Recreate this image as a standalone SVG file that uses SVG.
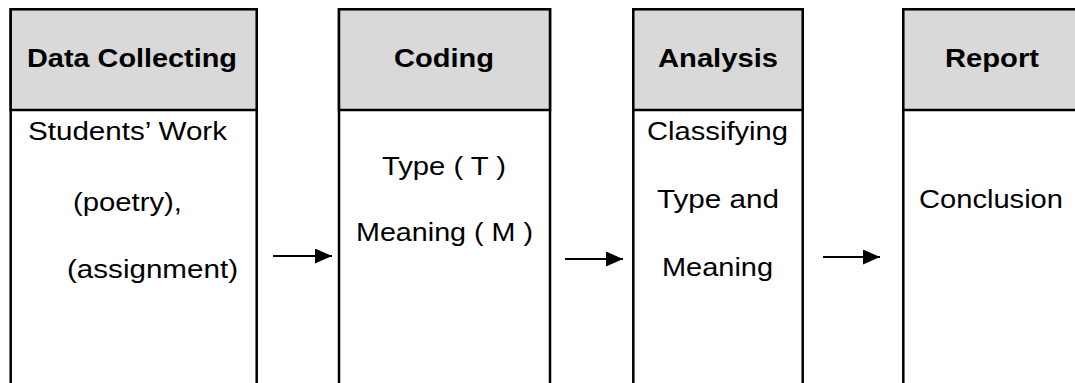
<svg xmlns="http://www.w3.org/2000/svg" width="1075" height="383" viewBox="0 0 1075 383">
<style>
.body{fill:#ffffff;stroke:#000000;stroke-width:2.5}
.head{fill:#d9d9d9;stroke:#000000;stroke-width:2.5}
.ht{font-family:"Liberation Sans",Arial,sans-serif;font-size:25px;font-weight:bold;fill:#000000}
.bt{font-family:"Liberation Sans",Arial,sans-serif;font-size:25px;fill:#000000}
.conn{stroke:#000000;stroke-width:2.2;fill:none}
</style>
<defs>
<marker id="ah" markerUnits="userSpaceOnUse" markerWidth="17" markerHeight="15" refX="17" refY="7.5" orient="auto">
<path d="M0,0 L17,7.5 L0,15 Z" fill="#000000"/>
</marker>
</defs>
<rect x="0" y="0" width="1075" height="383" fill="#ffffff"/>
<g id="node-data-collecting">
<rect class="body" x="10.7" y="9.3" width="246" height="400"/>
<rect class="head" x="10.7" y="9.3" width="246" height="100.7"/>
<text class="ht" x="27" y="67" textLength="210" lengthAdjust="spacingAndGlyphs">Data Collecting</text>
<text class="bt" x="28" y="140" textLength="199" lengthAdjust="spacingAndGlyphs">Students’ Work</text>
<text class="bt" x="73" y="211" textLength="109" lengthAdjust="spacingAndGlyphs">(poetry),</text>
<text class="bt" x="67" y="278" textLength="171" lengthAdjust="spacingAndGlyphs">(assignment)</text>
</g>
<g id="node-coding">
<rect class="body" x="339" y="9.3" width="211" height="400"/>
<rect class="head" x="339" y="9.3" width="211" height="100.7"/>
<text class="ht" x="394" y="67" textLength="100" lengthAdjust="spacingAndGlyphs">Coding</text>
<text class="bt" x="382" y="175" textLength="124" lengthAdjust="spacingAndGlyphs">Type ( T )</text>
<text class="bt" x="356" y="241" textLength="177" lengthAdjust="spacingAndGlyphs">Meaning ( M )</text>
</g>
<g id="node-analysis">
<rect class="body" x="633.3" y="9.3" width="169.4" height="400"/>
<rect class="head" x="633.3" y="9.3" width="169.4" height="100.7"/>
<text class="ht" x="658" y="67" textLength="120" lengthAdjust="spacingAndGlyphs">Analysis</text>
<text class="bt" x="647" y="140" textLength="141" lengthAdjust="spacingAndGlyphs">Classifying</text>
<text class="bt" x="657" y="208" textLength="122" lengthAdjust="spacingAndGlyphs">Type and</text>
<text class="bt" x="662" y="276" textLength="111" lengthAdjust="spacingAndGlyphs">Meaning</text>
</g>
<g id="node-report">
<rect class="body" x="903.3" y="9.3" width="200" height="400"/>
<rect class="head" x="903.3" y="9.3" width="200" height="100.7"/>
<text class="ht" x="945" y="67" textLength="94" lengthAdjust="spacingAndGlyphs">Report</text>
<text class="bt" x="919" y="208" textLength="144" lengthAdjust="spacingAndGlyphs">Conclusion</text>
</g>
<g id="connectors">
<line class="conn" x1="273" y1="256" x2="332" y2="256" marker-end="url(#ah)"/>
<line class="conn" x1="565" y1="259" x2="623" y2="259" marker-end="url(#ah)"/>
<line class="conn" x1="823" y1="257" x2="880" y2="257" marker-end="url(#ah)"/>
</g>
</svg>
